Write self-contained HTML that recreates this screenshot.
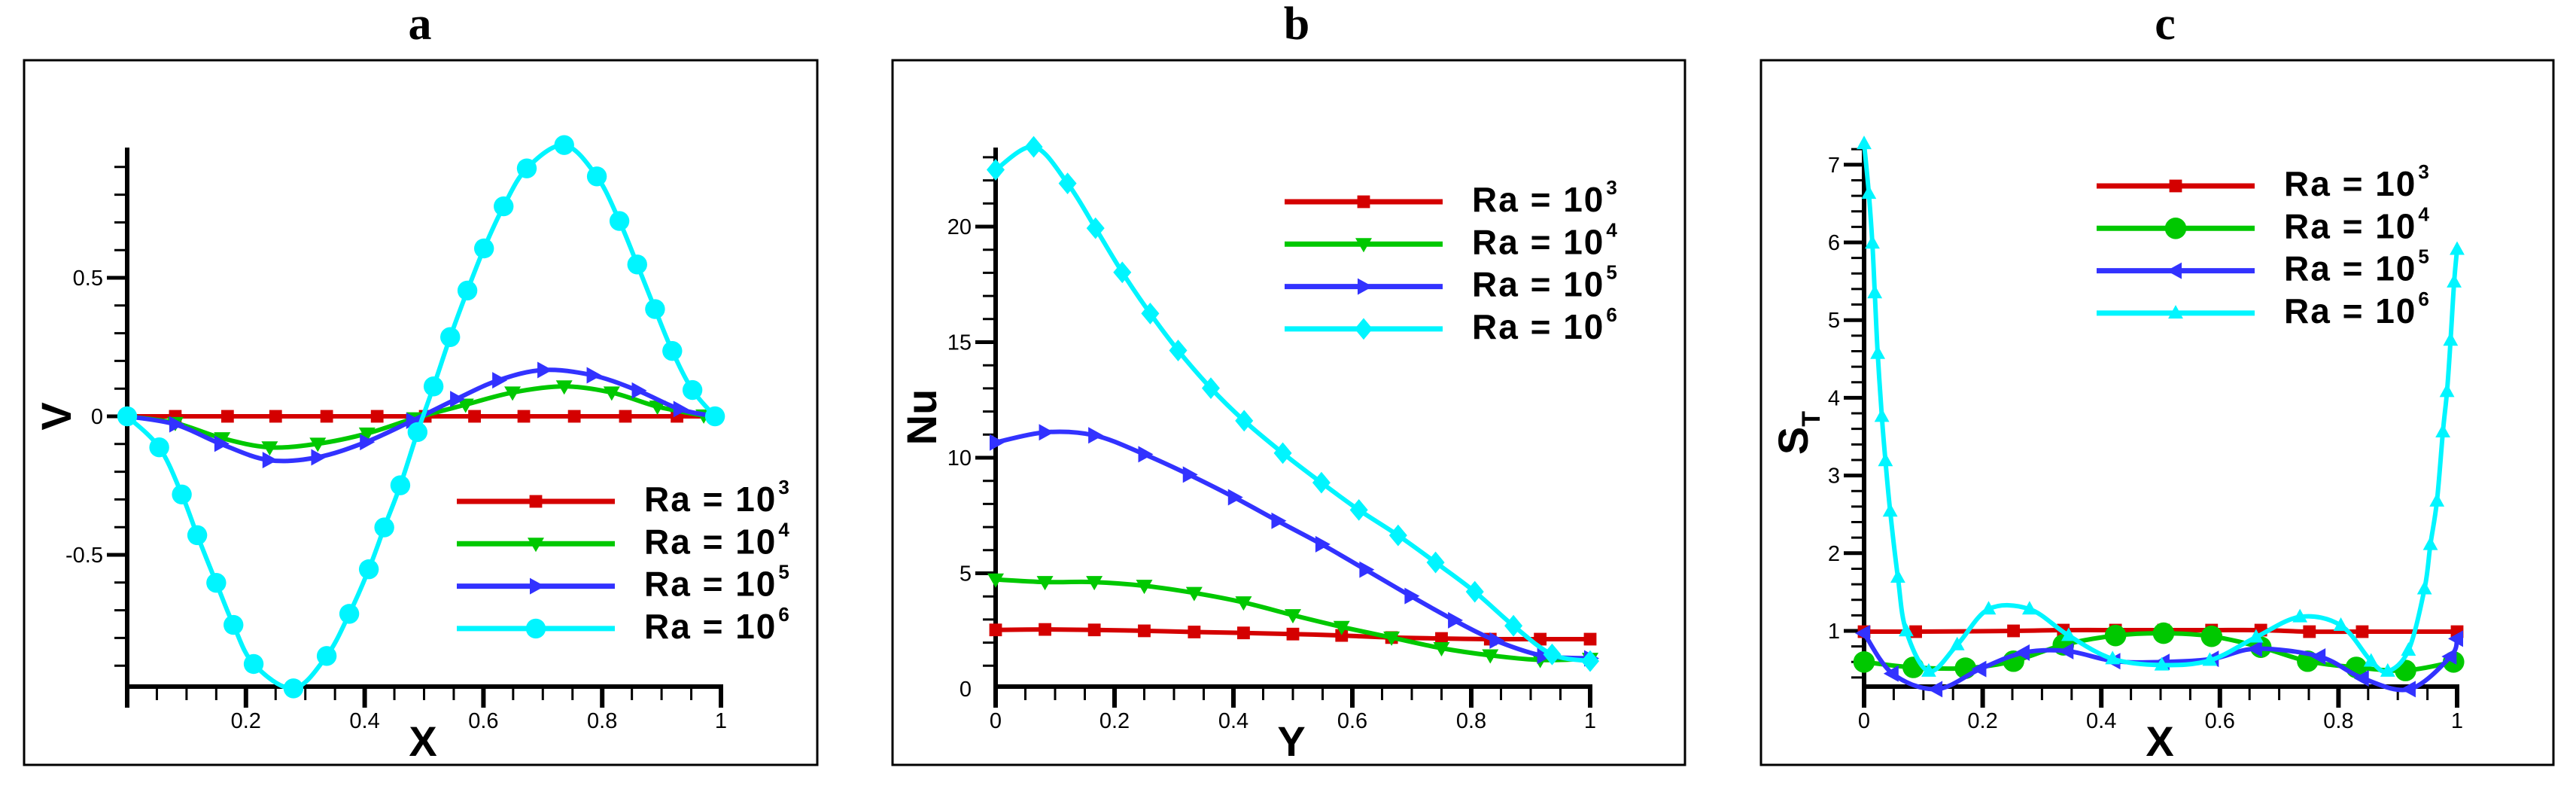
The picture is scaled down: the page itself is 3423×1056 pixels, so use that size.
<!DOCTYPE html>
<html><head><meta charset="utf-8">
<style>
html,body{margin:0;padding:0;background:#fff;}
svg{display:block;}
text{font-family:"Liberation Sans",Arial,sans-serif;}
</style></head>
<body>
<svg id="fig" width="3423" height="1056" viewBox="0 0 3423 1056" xmlns="http://www.w3.org/2000/svg"></svg>
<script>
// ---------- Panel a data (V vs X) ----------
const aRa3X = [0,0.081,0.169,0.250,0.336,0.421,0.502,0.585,0.668,0.753,0.839,0.926,0.99];
const aRa3Y = [0,0,0,0,0,0,0,0,0,0,0,0,0];
const aRa4X = [0,0.081,0.160,0.240,0.321,0.404,0.484,0.570,0.649,0.736,0.816,0.893,0.971,0.99];
const aRa4Y = [0,-0.024,-0.079,-0.112,-0.099,-0.062,-0.007,0.042,0.086,0.108,0.086,0.035,0.003,0];
const aRa5X = [0,0.081,0.157,0.238,0.320,0.402,0.480,0.554,0.625,0.701,0.784,0.860,0.930,0.99];
const aRa5Y = [0,-0.029,-0.099,-0.158,-0.148,-0.093,-0.016,0.062,0.130,0.167,0.148,0.093,0.026,0];
const aRa6X = [0,0.054,0.092,0.118,0.150,0.179,0.213,0.280,0.336,0.374,0.407,0.433,0.460,0.489,0.516,0.544,0.573,0.601,0.634,0.673,0.736,0.791,0.829,0.859,0.889,0.918,0.952,0.990];
const aRa6Y = [0,-0.112,-0.282,-0.429,-0.601,-0.753,-0.894,-0.982,-0.865,-0.713,-0.552,-0.401,-0.249,-0.057,0.108,0.286,0.454,0.606,0.758,0.895,0.979,0.866,0.705,0.548,0.387,0.236,0.095,0];
const aYTicks = [-0.5,0,0.5];
const aYTickLabels = ["-0.5","0","0.5"];
// ---------- Panel b data (Nu vs Y) ----------
const bX13 = [0,0.083,0.166,0.250,0.334,0.417,0.500,0.582,0.666,0.750,0.832,0.916,1.0];
const bRa3Y = [2.55,2.57,2.55,2.51,2.46,2.42,2.37,2.31,2.22,2.18,2.15,2.15,2.15];
const bRa4Y = [4.73,4.62,4.62,4.46,4.15,3.74,3.19,2.68,2.22,1.76,1.45,1.25,1.30];
const bRa5X = [0,0.083,0.166,0.250,0.325,0.401,0.474,0.548,0.622,0.698,0.771,0.841,0.921,1.0];
const bRa5Y = [10.66,11.10,10.97,10.15,9.27,8.29,7.27,6.26,5.16,4.02,2.97,2.09,1.43,1.32];
const bRa6X = [0,0.064,0.121,0.168,0.213,0.260,0.307,0.362,0.418,0.483,0.548,0.611,0.677,0.740,0.806,0.871,0.936,1.0];
const bRa6Y = [22.46,23.45,21.87,19.93,18.02,16.24,14.64,13.01,11.60,10.20,8.92,7.74,6.64,5.47,4.20,2.73,1.49,1.2];
const bYTicks = [0,5,10,15,20];
const bYTickLabels = ["0","5","10","15","20"];
// ---------- Panel c data (S_T vs X) ----------
const cRa3X = [0,0.087,0.252,0.336,0.424,0.505,0.586,0.669,0.751,0.840,1.0];
const cRa3Y = [0.99,0.99,1.0,1.01,1.01,1.01,1.01,1.01,0.99,0.99,0.99];
const cRa4X = [0,0.083,0.171,0.252,0.336,0.424,0.505,0.586,0.669,0.748,0.830,0.913,0.994];
const cRa4Y = [0.60,0.53,0.52,0.61,0.82,0.94,0.97,0.93,0.79,0.61,0.53,0.49,0.60];
const cRa5X = [0,0.048,0.122,0.196,0.269,0.343,0.422,0.505,0.588,0.661,0.768,0.841,0.920,0.989,1.0];
const cRa5Y = [0.97,0.45,0.25,0.51,0.72,0.74,0.61,0.60,0.64,0.77,0.67,0.39,0.25,0.67,0.90];
const cRa6X = [0,0.008,0.014,0.018,0.023,0.030,0.036,0.044,0.057,0.071,0.109,0.157,0.210,0.279,0.345,0.419,0.502,0.583,0.661,0.735,0.804,0.855,0.883,0.918,0.945,0.955,0.966,0.976,0.983,0.989,0.995,1.0];
const cRa6Y = [7.27,6.63,5.99,5.35,4.57,3.76,3.19,2.54,1.69,1.00,0.48,0.82,1.28,1.28,0.94,0.64,0.56,0.62,0.92,1.18,1.07,0.61,0.48,0.75,1.54,2.11,2.67,3.56,4.08,4.74,5.49,5.91];
const cYTicks = [1,2,3,4,5,6,7];
const cYTickLabels = ["1","2","3","4","5","6","7"];
const xTicks = [0,0.2,0.4,0.6,0.8,1];
const xTickLabels = ["0","0.2","0.4","0.6","0.8","1"];
const legendExp = ["3","4","5","6"];

const NS = "http://www.w3.org/2000/svg";
const svg = document.getElementById('fig');
function mk(tag, attrs, parent){
  const e = document.createElementNS(NS, tag);
  for (const k in attrs) e.setAttribute(k, attrs[k]);
  (parent||svg).appendChild(e);
  return e;
}
const COL = {r:"#d40000", g:"#00c800", b:"#3232ff", c:"#00f5ff"};

function smoothPath(pts){
  if (pts.length < 2) return "";
  let d = "M" + pts[0][0].toFixed(1) + "," + pts[0][1].toFixed(1);
  for (let i=0;i<pts.length-1;i++){
    const p0 = pts[Math.max(0,i-1)], p1 = pts[i], p2 = pts[i+1], p3 = pts[Math.min(pts.length-1,i+2)];
    const t = 0.5/3;
    const c1x = p1[0]+(p2[0]-p0[0])*t, c1y = p1[1]+(p2[1]-p0[1])*t;
    const c2x = p2[0]-(p3[0]-p1[0])*t, c2y = p2[1]-(p3[1]-p1[1])*t;
    d += " C"+c1x.toFixed(1)+","+c1y.toFixed(1)+" "+c2x.toFixed(1)+","+c2y.toFixed(1)+" "+p2[0].toFixed(1)+","+p2[1].toFixed(1);
  }
  return d;
}

function marker(g, type, x, y, color, s){
  let e;
  if (type==="square"){ e = mk('rect',{x:x-s*0.42,y:y-s*0.42,width:s*0.84,height:s*0.84,fill:color},g); }
  else if (type==="circle"){ e = mk('circle',{cx:x,cy:y,r:s*0.55,fill:color},g); }
  else if (type==="down"){ e = mk('polygon',{points:`${x-s*0.55},${y-s*0.4} ${x+s*0.55},${y-s*0.4} ${x},${y+s*0.55}`,fill:color},g); }
  else if (type==="up"){ e = mk('polygon',{points:`${x-s*0.55},${y+s*0.4} ${x+s*0.55},${y+s*0.4} ${x},${y-s*0.6}`,fill:color},g); }
  else if (type==="right"){ e = mk('polygon',{points:`${x-s*0.4},${y-s*0.55} ${x-s*0.4},${y+s*0.55} ${x+s*0.6},${y}`,fill:color},g); }
  else if (type==="left"){ e = mk('polygon',{points:`${x+s*0.4},${y-s*0.55} ${x+s*0.4},${y+s*0.55} ${x-s*0.6},${y}`,fill:color},g); }
  else if (type==="diamond"){ e = mk('polygon',{points:`${x},${y-s*0.6} ${x+s*0.5},${y} ${x},${y+s*0.6} ${x-s*0.5},${y}`,fill:color},g); }
  
  
  return e;
}

function panel(cfg){
  const g = mk('g',{});
  
  
  const fr = mk('rect',{x:cfg.box[0],y:80,width:cfg.box[1]-cfg.box[0],height:936,fill:"none",stroke:"#000","stroke-width":3},g);
  
  
  const tt = mk('text',{x:cfg.titleX,y:52,"text-anchor":"middle","font-size":62,"font-weight":"bold",style:'font-family:"Liberation Serif",serif'},g);
  tt.textContent = cfg.title;
  
  
  const X0 = cfg.x0, X1 = cfg.x1, AX = 912, TOP = 196;
  const sx = v => X0 + (X1-X0)*v;
  const sy = v => cfg.yRef - (v - cfg.vRef)*cfg.k;
  const ticksG = mk('g',{},g);
  
  
  for (let v = cfg.yMinorStart; sy(v) >= TOP-1; v += cfg.yMinor){
    const yy = sy(v);
    if (yy > AX+1) continue;
    const major = cfg.yTicks.some(t => Math.abs(t-v) < 1e-6);
    mk('line',{x1:X0-(major?27:17),x2:X0,y1:yy,y2:yy,stroke:"#000","stroke-width":major?5:3},ticksG);
  }
  cfg.yTicks.forEach((t,i)=>{
    const lb = mk('text',{x:X0-32,y:sy(t)+10,"text-anchor":"end","font-size":29},g);
    lb.textContent = cfg.yLabels[i];
    
    
  });
  const xg = mk('g',{},g);
  
  
  for (let i=0;i<=20;i++){
    const v = i*0.05, major = i%4===0;
    mk('line',{x1:sx(v),x2:sx(v),y1:AX,y2:AX+(major?28:18),stroke:"#000","stroke-width":major?6:3},xg);
  }
  xTicks.forEach((t,i)=>{
    if (cfg.skipX0 && i===0) return;
    const lb = mk('text',{x:sx(t),y:967,"text-anchor":"middle","font-size":29},g);
    lb.textContent = xTickLabels[i];
    
    
  });
  const ya = mk('line',{x1:X0,x2:X0,y1:TOP,y2:AX+3,stroke:"#000","stroke-width":6},g);
  
  
  const xa = mk('line',{x1:X0-3,x2:X1+3,y1:AX,y2:AX,stroke:"#000","stroke-width":6},g);
  
  
  const xt = mk('text',{x:cfg.xTitleX,y:1004,"text-anchor":"middle","font-size":56,"font-weight":"bold"},g);
  xt.textContent = cfg.xTitle;
  
  
  const yt = mk('text',{x:0,y:0,"text-anchor":"middle","font-size":56,"font-weight":"bold",transform:`translate(${cfg.yTitleX},${cfg.yTitleY}) rotate(-90)`},g);
  yt.textContent = cfg.yTitle;
  
  
  if (cfg.yTitleSub){
    const ts = mk('tspan',{"font-size":34,dy:16},yt);
    ts.textContent = cfg.yTitleSub;
  }
  cfg.series.forEach((s,si)=>{
    const sg = mk('g',{},g);
    
    
    const pts = s.x.map((xv,i)=>[sx(xv), sy(s.y[i])]);
    const p = mk('path',{d:smoothPath(pts),fill:"none",stroke:s.c,"stroke-width":6,"stroke-linejoin":"round"},sg);
    
    
    pts.forEach((pt,i)=>{
      if (s.skipMarkEnds && (i===0 || i===pts.length-1)) return;
      marker(sg, s.m, pt[0], pt[1], s.c, s.ms);
    });
    const ly = cfg.legY + si*56.3;
    const lg = mk('g',{},g);
    
    
    mk('line',{x1:cfg.legX,x2:cfg.legX+210,y1:ly,y2:ly,stroke:s.c,"stroke-width":7},lg);
    marker(lg, s.m, cfg.legX+105, ly, s.c, s.ms);
    const lt = mk('text',{x:cfg.legX+249,y:ly+13,"font-size":46,"font-weight":"bold","letter-spacing":"2"},lg);
    lt.textContent = "Ra = 10";
    const sup = mk('tspan',{"font-size":26,dy:-23,dx:2},lt);
    sup.textContent = legendExp[si];
  });
}

panel({name:"panel-a-velocity", title:"a", titleX:558, box:[32,1086], x0:169, x1:958,
  yRef:553, vRef:0, k:368, yMinorStart:-0.9, yMinor:0.1, yTicks:aYTicks, yLabels:aYTickLabels, skipX0:true,
  xTitle:"X", xTitleX:562, yTitle:"V", yTitleX:94, yTitleY:553,
  legX:607, legY:666,
  series:[
    {x:aRa3X,y:aRa3Y,c:COL.r,m:"square",ms:20,skipMarkEnds:true},
    {x:aRa4X,y:aRa4Y,c:COL.g,m:"down",ms:20,skipMarkEnds:true},
    {x:aRa5X,y:aRa5Y,c:COL.b,m:"right",ms:20,skipMarkEnds:true},
    {x:aRa6X,y:aRa6Y,c:COL.c,m:"circle",ms:24}
  ]});
panel({name:"panel-b-nusselt", title:"b", titleX:1723, box:[1186,2239], x0:1323, x1:2113,
  yRef:915, vRef:0, k:30.7, yMinorStart:0, yMinor:1, yTicks:bYTicks, yLabels:bYTickLabels,
  xTitle:"Y", xTitleX:1716, yTitle:"Nu", yTitleX:1244, yTitleY:554,
  legX:1707, legY:268,
  series:[
    {x:bX13,y:bRa3Y,c:COL.r,m:"square",ms:20},
    {x:bX13,y:bRa4Y,c:COL.g,m:"down",ms:20},
    {x:bRa5X,y:bRa5Y,c:COL.b,m:"right",ms:20},
    {x:bRa6X,y:bRa6Y,c:COL.c,m:"diamond",ms:24}
  ]});
panel({name:"panel-c-entropy", title:"c", titleX:2877, box:[2340,3393], x0:2477, x1:3265,
  yRef:838, vRef:1, k:103.2, yMinorStart:0.4, yMinor:0.2, yTicks:cYTicks, yLabels:cYTickLabels,
  xTitle:"X", xTitleX:2870, yTitle:"S", yTitleSub:"T", yTitleX:2402, yTitleY:575,
  legX:2786, legY:247,
  series:[
    {x:cRa3X,y:cRa3Y,c:COL.r,m:"square",ms:20},
    {x:cRa4X,y:cRa4Y,c:COL.g,m:"circle",ms:26},
    {x:cRa5X,y:cRa5Y,c:COL.b,m:"left",ms:20},
    {x:cRa6X,y:cRa6Y,c:COL.c,m:"up",ms:18}
  ]});
</script>
</body></html>
